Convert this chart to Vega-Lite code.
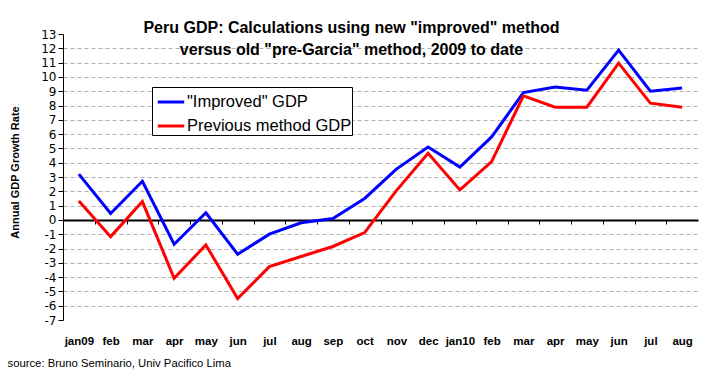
{
  "$schema": "https://vega.github.io/schema/vega-lite/v6.json",
  "width": 635,
  "height": 286,
  "autosize": {"type": "none"},
  "padding": {"left": 63, "top": 34, "right": 5, "bottom": 58},
  "background": "white",
  "config": {"font": "Liberation Sans", "view": {"stroke": null}},
  "title": {
    "text": ["Peru GDP: Calculations using new \"improved\" method", "versus old \"pre-Garcia\" method, 2009 to date"],
    "fontSize": 16,
    "fontWeight": "bold",
    "color": "black",
    "lineHeight": 22,
    "anchor": "middle",
    "frame": "group",
    "dx": -29,
    "offset": -30
  },
  "data": {
    "values": [
      {"month": "jan09", "series": "improved", "value": 3.2},
      {"month": "feb09", "series": "improved", "value": 0.45},
      {"month": "mar09", "series": "improved", "value": 2.7},
      {"month": "apr09", "series": "improved", "value": -1.7},
      {"month": "may09", "series": "improved", "value": 0.5},
      {"month": "jun09", "series": "improved", "value": -2.4},
      {"month": "jul09", "series": "improved", "value": -1.0},
      {"month": "aug09", "series": "improved", "value": -0.2},
      {"month": "sep09", "series": "improved", "value": 0.1},
      {"month": "oct09", "series": "improved", "value": 1.5},
      {"month": "nov09", "series": "improved", "value": 3.55},
      {"month": "dec09", "series": "improved", "value": 5.1},
      {"month": "jan10", "series": "improved", "value": 3.7},
      {"month": "feb10", "series": "improved", "value": 5.8},
      {"month": "mar10", "series": "improved", "value": 8.9},
      {"month": "apr10", "series": "improved", "value": 9.3},
      {"month": "may10", "series": "improved", "value": 9.07},
      {"month": "jun10", "series": "improved", "value": 11.87},
      {"month": "jul10", "series": "improved", "value": 9.0},
      {"month": "aug10", "series": "improved", "value": 9.22},
      {"month": "jan09", "series": "previous", "value": 1.33},
      {"month": "feb09", "series": "previous", "value": -1.17},
      {"month": "mar09", "series": "previous", "value": 1.28},
      {"month": "apr09", "series": "previous", "value": -4.08},
      {"month": "may09", "series": "previous", "value": -1.75},
      {"month": "jun09", "series": "previous", "value": -5.5},
      {"month": "jul09", "series": "previous", "value": -3.27},
      {"month": "aug09", "series": "previous", "value": -2.56},
      {"month": "sep09", "series": "previous", "value": -1.86},
      {"month": "oct09", "series": "previous", "value": -0.89},
      {"month": "nov09", "series": "previous", "value": 2.05},
      {"month": "dec09", "series": "previous", "value": 4.66},
      {"month": "jan10", "series": "previous", "value": 2.1},
      {"month": "feb10", "series": "previous", "value": 4.08},
      {"month": "mar10", "series": "previous", "value": 8.67},
      {"month": "apr10", "series": "previous", "value": 7.88},
      {"month": "may10", "series": "previous", "value": 7.88},
      {"month": "jun10", "series": "previous", "value": 10.96},
      {"month": "jul10", "series": "previous", "value": 8.16},
      {"month": "aug10", "series": "previous", "value": 7.88}
    ]
  },
  "mark": {"type": "line", "strokeWidth": 3},
  "encoding": {
    "x": {
      "field": "month",
      "type": "ordinal",
      "sort": null,
      "scale": {"padding": 0.5},
      "axis": {
        "offset": -100,
        "domainColor": "black",
        "domainWidth": 2,
        "tickOffset": -15.875,
        "labelOffset": 15.875,
        "tickColor": "black",
        "tickSize": 4,
        "tickWidth": 1,
        "labelPadding": 111,
        "labelFontSize": 11.5,
        "labelFontWeight": "bold",
        "labelColor": "black",
        "labelAngle": 0,
        "labelOverlap": false,
        "labelExpr": "indexof(['jan09','jan10'], datum.value) >= 0 ? datum.value : slice(datum.value, 0, 3)",
        "grid": false,
        "title": "source: Bruno Seminario, Univ Pacifico Lima",
        "titleFontSize": 11.3,
        "titleFontWeight": "normal",
        "titleColor": "black",
        "titleAnchor": "start",
        "titleAlign": "left",
        "titleBaseline": "alphabetic",
        "titleX": -56,
        "titleY": 146
      }
    },
    "y": {
      "field": "value",
      "type": "quantitative",
      "scale": {"domain": [-7, 13], "nice": false, "zero": false},
      "axis": {
        "values": [-7, -6, -5, -4, -3, -2, -1, 0, 1, 2, 3, 4, 5, 6, 7, 8, 9, 10, 11, 12, 13],
        "labelExpr": "datum.value < 0 ? '-' + abs(datum.value) : '' + datum.value",
        "domainColor": "black",
        "domainWidth": 1,
        "tickColor": "black",
        "tickSize": 5,
        "labelFont": "DejaVu Sans",
        "labelFontSize": 12,
        "labelColor": "black",
        "labelPadding": 2,
        "labelFlush": false,
        "labelOverlap": false,
        "grid": true,
        "gridColor": "#b0b0b0",
        "gridDash": [4, 3],
        "gridWidth": 1,
        "gridOpacity": {"condition": {"test": "datum.value == 13 || datum.value == -7 || datum.value == 0", "value": 0}, "value": 1},
        "title": "Annual GDP Growth Rate",
        "titleFontSize": 11,
        "titleFontWeight": "bold",
        "titleColor": "black",
        "titleAngle": -90,
        "titleAlign": "center",
        "titleBaseline": "middle",
        "titleX": -48,
        "titleY": 138
      }
    },
    "color": {
      "field": "series",
      "type": "nominal",
      "scale": {"domain": ["improved", "previous"], "range": ["#0000ff", "#ff0000"]},
      "legend": {
        "title": null,
        "orient": "none",
        "legendX": 89,
        "legendY": 53,
        "strokeColor": "black",
        "fillColor": "white",
        "padding": 0,
        "symbolOffset": 4,
        "symbolSize": 700,
        "symbolStrokeWidth": 3,
        "labelFontSize": 16.5,
        "labelColor": "black",
        "labelOffset": 1,
        "rowPadding": 0,
        "labelLimit": 300,
        "labelExpr": "datum.value == 'improved' ? '\"Improved\" GDP' : 'Previous method GDP'"
      }
    }
  }
}
